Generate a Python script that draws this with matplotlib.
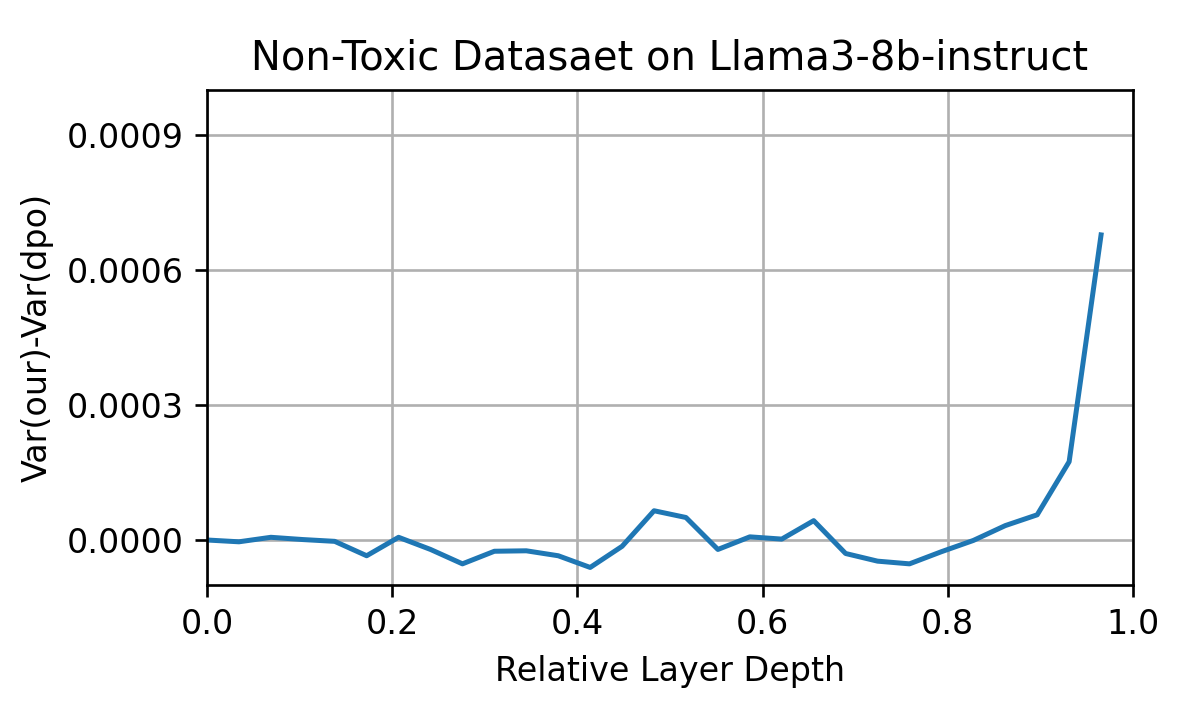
import matplotlib
matplotlib.use("Agg")
import matplotlib.pyplot as plt
import numpy as np

n_layers = 29
depth = [i / n_layers for i in range(n_layers)]
var_diff = [0.000000, -0.000004, 0.000006, 0.000001, -0.000003, -0.000035, 0.000006,
            -0.000021, -0.000053, -0.000025, -0.000024, -0.000035, -0.000061, -0.000014,
            0.000065, 0.000050, -0.000021, 0.000007, 0.000002, 0.000043, -0.000030,
            -0.000047, -0.000053, -0.000026, -0.000001, 0.000032, 0.000056, 0.000174,
            0.000678]
yticks = [0.0, 0.0003, 0.0006, 0.0009]
ytick_labels = ["0.0000", "0.0003", "0.0006", "0.0009"]
xticks = [0.0, 0.2, 0.4, 0.6, 0.8, 1.0]

DPI = 240
fig = plt.figure(figsize=(1196 / DPI, 728 / DPI), dpi=DPI)
ax = fig.add_axes([207/1196, 1-585/728, (1133-207)/1196, (585-90)/728])
ax.plot(depth, var_diff, color="#1f77b4", linewidth=1.5)
ax.set_xlim(0, 1.0)
ax.set_ylim(-0.0001, 0.001)
ax.set_xticks(xticks)
ax.set_yticks(yticks)
ax.set_yticklabels(ytick_labels)
ax.grid(True)
ax.set_xlabel("Relative Layer Depth")
ax.set_ylabel("Var(our)-Var(dpo)")
ax.set_title("Non-Toxic Datasaet on Llama3-8b-instruct", fontsize=12)
fig.savefig("out.png", dpi=DPI)
